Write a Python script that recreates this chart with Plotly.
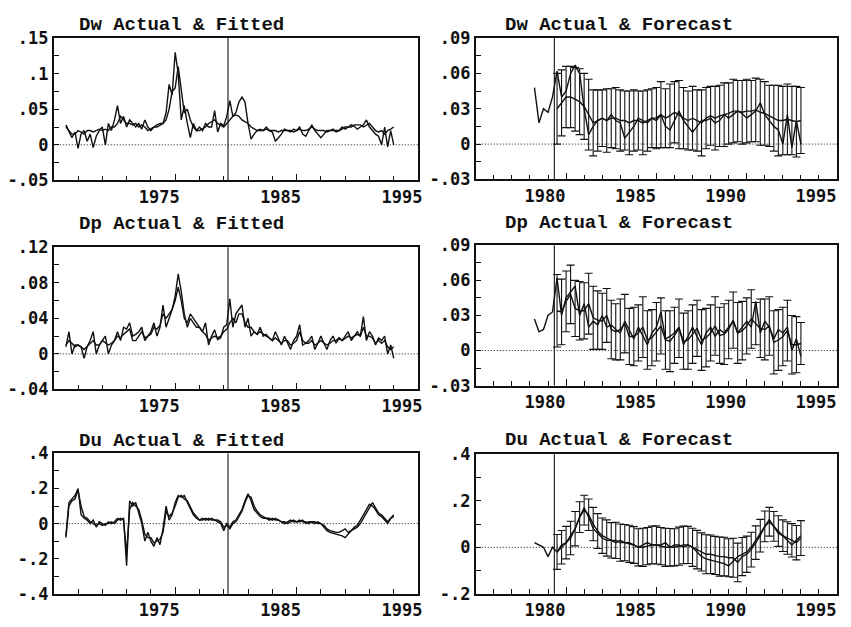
import plotly.graph_objects as go

W, H = 851, 627

# ---------------- data (quarterly, first observation 1966 Q1) ----------------
START_YEAR = 1966
SAMPLE_END = 1979.35          # end of estimation sample (vertical line)
RIGHT_ACTUAL_START = 1978.25  # first actual shown in forecast panels
FORECAST_START = 1979.5       # first forecast quarter

DW_ACTUAL = [
    0.028, 0.020, 0.010, 0.018,   # 1966
    -0.005, 0.015, 0.020, 0.005,  # 1967
    0.015, -0.004, 0.012, 0.020,  # 1968
    0.025, 0.000, 0.030, 0.020,   # 1969
    0.035, 0.055, 0.030, 0.040,   # 1970
    0.025, 0.035, 0.030, 0.025,   # 1971
    0.030, 0.022, 0.035, 0.025,   # 1972
    0.020, 0.025, 0.028, 0.030,   # 1973
    0.030, 0.045, 0.085, 0.070,   # 1974
    0.130, 0.100, 0.035, 0.055,   # 1975
    0.030, 0.010, 0.030, 0.020,   # 1976
    0.025, 0.020, 0.030, 0.025,   # 1977
    0.025, 0.048, 0.018, 0.030,   # 1978
    0.027, 0.040, 0.062, 0.040,   # 1979
    0.045, 0.060, 0.067, 0.060,   # 1980
    0.030, 0.008, 0.015, 0.020,   # 1981
    0.022, 0.020, 0.025, 0.020,   # 1982
    0.018, 0.005, 0.010, 0.015,   # 1983
    0.022, 0.020, 0.018, 0.022,   # 1984
    0.020, 0.025, 0.015, 0.012,   # 1985
    0.020, 0.028, 0.020, 0.015,   # 1986
    0.010, 0.015, 0.020, 0.020,   # 1987
    0.022, 0.018, 0.020, 0.025,   # 1988
    0.022, 0.025, 0.028, 0.026,   # 1989
    0.022, 0.025, 0.028, 0.035,   # 1990
    0.025, 0.020, 0.015, 0.012,   # 1991
    0.000, 0.025, -0.003, 0.020,  # 1992
    0.000,                        # 1993
]
DW_FITTED = [
    0.025, 0.020, 0.015, 0.015,
    0.020, 0.018, 0.015, 0.020,
    0.020, 0.018, 0.020, 0.022,
    0.020, 0.022, 0.020, 0.025,
    0.025, 0.030, 0.040, 0.035,
    0.030, 0.030, 0.028, 0.030,
    0.025, 0.028, 0.025, 0.020,
    0.022, 0.025, 0.025, 0.028,
    0.030, 0.035, 0.050, 0.075,
    0.080, 0.110, 0.075, 0.045,
    0.050, 0.035, 0.025, 0.020,
    0.020, 0.022, 0.025, 0.030,
    0.032, 0.035, 0.030, 0.028,
    0.025, 0.030, 0.035, 0.040,
    0.042, 0.040, 0.035, 0.032,
    0.030, 0.025, 0.022, 0.020,
    0.020, 0.020, 0.022, 0.020,
    0.020, 0.020, 0.018, 0.020,
    0.020, 0.020, 0.020, 0.018,
    0.020, 0.022, 0.020, 0.020,
    0.022, 0.025, 0.022, 0.020,
    0.020, 0.020, 0.018, 0.020,
    0.020, 0.020, 0.020, 0.022,
    0.025, 0.025, 0.025, 0.028,
    0.028, 0.028, 0.025, 0.028,
    0.030, 0.025, 0.020, 0.018,
    0.020, 0.015, 0.020, 0.022,
    0.025,
]
DW_FORECAST = [
    0.030, 0.035,                 # 1979 Q3-Q4
    0.040, 0.040, 0.038, 0.036,   # 1980
    0.032, 0.025, 0.018, 0.020,
    0.022, 0.020, 0.022, 0.022,
    0.020, 0.020, 0.018, 0.020,
    0.020, 0.018, 0.020, 0.022,
    0.022, 0.025, 0.022, 0.024,
    0.027, 0.025, 0.022, 0.020,
    0.022, 0.020, 0.018, 0.022,
    0.024, 0.022, 0.024, 0.025,
    0.026, 0.028, 0.028, 0.027,
    0.028, 0.028, 0.029, 0.027,
    0.026, 0.024, 0.022, 0.020,
    0.020, 0.021, 0.020, 0.019,   # 1992
    0.020,                        # 1993 Q1
]
DW_BAND = [
    0.030, 0.028,
    0.026, 0.026, 0.027, 0.028,
    0.028, 0.030, 0.028, 0.026,
    0.024, 0.027, 0.025, 0.026,
    0.026, 0.025, 0.027, 0.026,
    0.025, 0.027, 0.026, 0.025,
    0.026, 0.028, 0.025, 0.027,
    0.026, 0.029, 0.026, 0.025,
    0.027, 0.026, 0.028, 0.026,
    0.025, 0.027, 0.026, 0.027,
    0.026, 0.027, 0.026, 0.027,
    0.027, 0.026, 0.027, 0.028,
    0.027, 0.026, 0.028, 0.030,
    0.029, 0.030, 0.029, 0.030,
    0.028,
]

DP_ACTUAL = [
    0.008, 0.025, 0.000, 0.010,   # 1966
    0.010, 0.008, -0.005, 0.008,  # 1967
    0.015, 0.025, 0.000, 0.010,   # 1968
    0.015, 0.020, 0.000, 0.010,   # 1969
    0.015, 0.025, 0.015, 0.030,   # 1970
    0.028, 0.035, 0.020, 0.022,   # 1971
    0.025, 0.030, 0.015, 0.020,   # 1972
    0.025, 0.035, 0.020, 0.030,   # 1973
    0.055, 0.030, 0.040, 0.050,   # 1974
    0.065, 0.090, 0.070, 0.045,   # 1975
    0.030, 0.040, 0.035, 0.030,   # 1976
    0.030, 0.025, 0.035, 0.010,   # 1977
    0.020, 0.027, 0.016, 0.018,   # 1978
    0.030, 0.033, 0.062, 0.030,   # 1979
    0.045, 0.050, 0.055, 0.030,   # 1980
    0.040, 0.020, 0.025, 0.022,   # 1981
    0.030, 0.020, 0.022, 0.018,   # 1982
    0.015, 0.025, 0.018, 0.010,   # 1983
    0.020, 0.012, 0.005, 0.015,   # 1984
    0.020, 0.033, 0.010, 0.012,   # 1985
    0.015, 0.020, 0.005, 0.012,   # 1986
    0.020, 0.012, 0.005, 0.015,   # 1987
    0.020, 0.012, 0.018, 0.015,   # 1988
    0.020, 0.025, 0.015, 0.020,   # 1989
    0.025, 0.020, 0.042, 0.015,   # 1990
    0.025, 0.020, 0.010, 0.018,   # 1991
    0.015, 0.020, 0.000, 0.010,   # 1992
    -0.005,                       # 1993
]
DP_FITTED = [
    0.010, 0.015, 0.012, 0.008,
    0.010, 0.008, 0.005, 0.008,
    0.012, 0.015, 0.010, 0.010,
    0.015, 0.012, 0.010, 0.012,
    0.015, 0.020, 0.018, 0.022,
    0.025, 0.028, 0.015, 0.015,
    0.020, 0.025, 0.018, 0.020,
    0.022, 0.030, 0.028, 0.032,
    0.045, 0.040, 0.045, 0.050,
    0.060, 0.075, 0.060, 0.040,
    0.035, 0.045, 0.040, 0.035,
    0.030, 0.025, 0.022, 0.015,
    0.018, 0.020, 0.018, 0.020,
    0.025, 0.028, 0.035, 0.040,
    0.035, 0.045, 0.045, 0.035,
    0.030, 0.030, 0.025, 0.022,
    0.025, 0.022, 0.020, 0.018,
    0.015, 0.018, 0.015, 0.012,
    0.015, 0.015, 0.010, 0.012,
    0.015, 0.025, 0.015, 0.012,
    0.012, 0.015, 0.010, 0.012,
    0.015, 0.012, 0.010, 0.012,
    0.015, 0.015, 0.018, 0.015,
    0.018, 0.020, 0.018, 0.020,
    0.022, 0.020, 0.030, 0.020,
    0.020, 0.018, 0.012, 0.015,
    0.012, 0.015, 0.008, 0.005,
    0.008,
]
DP_FORECAST = [
    0.034, 0.033,
    0.042, 0.048, 0.036, 0.034,
    0.034, 0.040, 0.028, 0.026,
    0.025, 0.030, 0.018, 0.016,
    0.018, 0.023, 0.012, 0.012,
    0.015, 0.020, 0.009, 0.011,
    0.016, 0.021, 0.009, 0.008,
    0.013, 0.019, 0.008, 0.009,
    0.014, 0.019, 0.009, 0.011,
    0.015, 0.021, 0.013, 0.014,
    0.018, 0.026, 0.015, 0.017,
    0.021, 0.027, 0.023, 0.019,
    0.018, 0.021, 0.007, 0.009,
    0.012, 0.017, 0.005, 0.005,
    0.006,
]
DP_BAND = [
    0.031, 0.028,
    0.026, 0.025, 0.024, 0.025,
    0.024, 0.026, 0.027, 0.025,
    0.024, 0.023, 0.025, 0.024,
    0.026, 0.025, 0.024, 0.025,
    0.024, 0.026, 0.025, 0.024,
    0.025, 0.024, 0.025, 0.026,
    0.024, 0.025, 0.024, 0.025,
    0.025, 0.024, 0.026, 0.025,
    0.024, 0.025, 0.024, 0.026,
    0.025, 0.024, 0.026, 0.025,
    0.024, 0.025, 0.018, 0.025,
    0.026, 0.025, 0.027, 0.026,
    0.025, 0.026, 0.025, 0.024,
    0.018,
]

DU_ACTUAL = [
    -0.07, 0.12, 0.14, 0.16,      # 1966
    0.20, 0.05, 0.03, 0.02,       # 1967
    0.00, 0.02, -0.02, 0.01,      # 1968
    0.00, -0.01, 0.01, 0.00,      # 1969
    0.01, 0.03, 0.02, 0.03,       # 1970
    -0.24, 0.13, 0.10, 0.12,      # 1971
    0.06, 0.00, -0.10, -0.05,     # 1972
    -0.10, -0.13, -0.08, -0.12,   # 1973
    -0.03, 0.10, 0.02, 0.05,      # 1974
    0.12, 0.16, 0.15, 0.16,       # 1975
    0.12, 0.08, 0.05, 0.03,       # 1976
    0.02, 0.02, 0.03, 0.02,       # 1977
    0.03, 0.02, 0.01, 0.00,       # 1978
    -0.04, 0.00, -0.02, 0.01,     # 1979
    0.02, 0.05, 0.08, 0.13,       # 1980
    0.17, 0.13, 0.08, 0.06,       # 1981
    0.04, 0.03, 0.03, 0.02,       # 1982
    0.03, 0.02, 0.02, 0.01,       # 1983
    0.00, 0.01, 0.02, 0.01,       # 1984
    0.01, 0.01, 0.02, 0.00,       # 1985
    0.01, 0.01, 0.00, 0.01,       # 1986
    0.00, -0.02, -0.04, -0.05,    # 1987
    -0.055, -0.06, -0.065, -0.07, # 1988
    -0.08, -0.06, -0.04, -0.03,   # 1989
    -0.02, 0.00, 0.03, 0.06,      # 1990
    0.09, 0.12, 0.09, 0.06,       # 1991
    0.05, 0.03, 0.01, 0.03,       # 1992
    0.05,                         # 1993
]
DU_FITTED = [
    -0.08, 0.10, 0.13, 0.14,
    0.19, 0.10, 0.04, 0.03,
    0.01, 0.00, -0.01, 0.00,
    -0.01, 0.00, 0.00, 0.01,
    0.00, 0.02, 0.03, 0.02,
    -0.17, 0.08, 0.12, 0.10,
    0.08, 0.02, -0.06, -0.08,
    -0.08, -0.11, -0.10, -0.09,
    -0.05, 0.07, 0.04, 0.06,
    0.10, 0.15, 0.16, 0.14,
    0.13, 0.09, 0.06, 0.04,
    0.02, 0.03, 0.02, 0.03,
    0.02, 0.02, 0.02, 0.01,
    -0.02, -0.01, -0.03, 0.00,
    0.01, 0.04, 0.07, 0.12,
    0.16, 0.15, 0.10, 0.07,
    0.05, 0.04, 0.03, 0.03,
    0.02, 0.03, 0.02, 0.01,
    0.01, 0.00, 0.01, 0.02,
    0.01, 0.02, 0.01, 0.01,
    0.00, 0.01, 0.01, 0.00,
    0.00, -0.01, -0.03, -0.04,
    -0.045, -0.05, -0.05, -0.04,
    -0.03, -0.05, -0.04, -0.02,
    -0.01, 0.02, 0.05, 0.08,
    0.11, 0.10, 0.08, 0.05,
    0.04, 0.02, 0.00, 0.03,
    0.04,
]
DU_FORECAST = [
    -0.02, 0.00,
    0.02, 0.04, 0.08, 0.13,
    0.16, 0.14, 0.10, 0.07,
    0.05, 0.04, 0.03, 0.03,
    0.02, 0.02, 0.015, 0.01,
    0.00, 0.00, 0.005, 0.01,
    0.01, 0.005, 0.00, 0.00,
    0.00, 0.005, 0.01, 0.01,
    0.00, -0.01, -0.02, -0.03,
    -0.03, -0.035, -0.04, -0.04,
    -0.045, -0.045, -0.065, -0.04,
    -0.03, -0.01, 0.02, 0.05,
    0.09, 0.11, 0.09, 0.07,
    0.05, 0.04, 0.03, 0.02,
    0.04,
]
DU_BAND = [
    0.075, 0.072,
    0.070, 0.072, 0.074, 0.066,
    0.064, 0.068, 0.072, 0.075,
    0.076, 0.078, 0.076, 0.078,
    0.080, 0.078, 0.080, 0.079,
    0.080, 0.082, 0.080, 0.081,
    0.082, 0.080, 0.082, 0.081,
    0.080, 0.082, 0.081, 0.080,
    0.082, 0.083, 0.082, 0.084,
    0.083, 0.082, 0.084, 0.083,
    0.082, 0.084, 0.083, 0.082,
    0.078, 0.075, 0.072, 0.070,
    0.066, 0.062, 0.064, 0.066,
    0.068, 0.070, 0.072, 0.074,
    0.075,
]

TITLES = ["Dw Actual & Fitted", "Dw Actual & Forecast",
          "Dp Actual & Fitted", "Dp Actual & Forecast",
          "Du Actual & Fitted", "Du Actual & Forecast"]

LEFT_X_TICKS = [1975, 1985, 1995]
RIGHT_X_TICKS = [1980, 1985, 1990, 1995]

Y_TICKS = {
    1: ([-0.05, 0, 0.05, 0.1, 0.15], ["-.05", "0", ".05", ".1", ".15"]),
    2: ([-0.03, 0, 0.03, 0.06, 0.09], ["-.03", "0", ".03", ".06", ".09"]),
    3: ([-0.04, 0, 0.04, 0.08, 0.12], ["-.04", "0", ".04", ".08", ".12"]),
    4: ([-0.03, 0, 0.03, 0.06, 0.09], ["-.03", "0", ".03", ".06", ".09"]),
    5: ([-0.4, -0.2, 0, 0.2, 0.4], ["-.4", "-.2", "0", ".2", ".4"]),
    6: ([-0.2, 0, 0.2, 0.4], ["-.2", "0", ".2", ".4"]),
}

# ---------------- layout constants (pixels) ----------------
BOXES = {
    1: (54, 420, 29, 176),
    2: (478, 841, 29, 175),
    3: (54, 420, 245, 392),
    4: (478, 841, 243, 388),
    5: (54, 420, 458, 603),
    6: (478, 841, 459, 603),
}
TITLE_POS = {1: (77, 16), 2: (505, 16), 3: (77, 221), 4: (505, 220),
             5: (77, 445), 6: (505, 444)}

INK = "#111111"
TICK_FONT = dict(family="DejaVu Sans Mono", size=17, color=INK, weight="bold")
TITLE_FONT = dict(family="Liberation Mono", size=19, color=INK, weight="bold")


def quarters(start, n):
    return [start + k / 4 for k in range(n)]


t_full = quarters(START_YEAR, len(DW_ACTUAL))
i_act = round((RIGHT_ACTUAL_START - START_YEAR) * 4)
t_fc = quarters(FORECAST_START, len(DW_FORECAST))

series = [
    (DW_ACTUAL, DW_FITTED, DW_FORECAST, DW_BAND),
    (DP_ACTUAL, DP_FITTED, DP_FORECAST, DP_BAND),
    (DU_ACTUAL, DU_FITTED, DU_FORECAST, DU_BAND),
]

fig = go.Figure()
line = dict(color=INK, width=1.4)

for row, (act, fit, fc, band) in enumerate(series):
    kl = 2 * row + 1
    kr = 2 * row + 2
    xl, yl = ("x", "y") if kl == 1 else (f"x{kl}", f"y{kl}")
    xr, yr = f"x{kr}", f"y{kr}"
    # left: actual & fitted
    fig.add_trace(go.Scatter(x=t_full, y=fit, mode="lines", line=line,
                             xaxis=xl, yaxis=yl, showlegend=False))
    fig.add_trace(go.Scatter(x=t_full, y=act, mode="lines", line=line,
                             xaxis=xl, yaxis=yl, showlegend=False))
    # right: forecast with error bars, plus actual
    fig.add_trace(go.Scatter(x=t_fc, y=fc, mode="lines", line=line,
                             error_y=dict(type="data", array=band, visible=True,
                                          color=INK, thickness=1.1, width=4),
                             xaxis=xr, yaxis=yr, showlegend=False))
    fig.add_trace(go.Scatter(x=t_full[i_act:], y=act[i_act:], mode="lines",
                             line=line, xaxis=xr, yaxis=yr, showlegend=False))

layout = dict(width=W, height=H, margin=dict(l=0, r=0, t=0, b=0),
              paper_bgcolor="white", plot_bgcolor="white", showlegend=False)
shapes = []
annotations = []

for k in range(1, 7):
    x0, x1, y0, y1 = BOXES[k]
    left = (k % 2 == 1)
    xkey = "xaxis" if k == 1 else f"xaxis{k}"
    ykey = "yaxis" if k == 1 else f"yaxis{k}"
    xref = "x" if k == 1 else f"x{k}"
    yref = "y" if k == 1 else f"y{k}"
    ticks_y, text_y = Y_TICKS[k]
    ystep = (ticks_y[1] - ticks_y[0]) / 2
    layout[xkey] = dict(
        domain=[x0 / W, x1 / W], anchor=yref,
        range=[1965, 1995] if left else [1975, 1995],
        tickmode="array",
        tickvals=LEFT_X_TICKS if left else RIGHT_X_TICKS,
        ticktext=[str(v) for v in (LEFT_X_TICKS if left else RIGHT_X_TICKS)],
        ticks="inside", ticklen=7, tickwidth=1.2, tickcolor=INK,
        ticklabelshift=-16 if left else -21,
        minor=dict(ticks="inside", ticklen=5, tickwidth=1.2, tickcolor=INK,
                   tick0=1965, dtick=2 if left else 1, showgrid=False),
        showline=True, linecolor=INK, linewidth=1.6, mirror=True,
        showgrid=False, zeroline=False, tickfont=TICK_FONT,
    )
    layout[ykey] = dict(
        domain=[1 - y1 / H, 1 - y0 / H], anchor=xref,
        range=[ticks_y[0], ticks_y[-1]],
        tickmode="array", tickvals=ticks_y, ticktext=text_y,
        ticks="inside", ticklen=5, tickwidth=1.2, tickcolor=INK,
        minor=dict(ticks="inside", ticklen=5, tickwidth=1.2, tickcolor=INK,
                   tick0=ticks_y[0], dtick=ystep, showgrid=False),
        showline=True, linecolor=INK, linewidth=1.6, mirror=True,
        showgrid=False, zeroline=False, tickfont=TICK_FONT,
    )
    # dotted zero line
    shapes.append(dict(type="line", xref=f"{xref} domain", yref=yref,
                       x0=0, x1=1, y0=0, y1=0,
                       line=dict(color=INK, width=1, dash="1px,2px")))
    # end of estimation sample
    shapes.append(dict(type="line", xref=xref, yref=f"{yref} domain",
                       x0=SAMPLE_END, x1=SAMPLE_END, y0=0, y1=1,
                       line=dict(color=INK, width=1.1)))
    tx, ty = TITLE_POS[k]
    annotations.append(dict(text=TITLES[k - 1], xref="paper", yref="paper",
                            x=tx / W, y=1 - ty / H, xanchor="left",
                            yanchor="middle", showarrow=False,
                            font=TITLE_FONT))

layout["shapes"] = shapes
layout["annotations"] = annotations
fig.update_layout(**layout)
fig.write_html(
    "out.html",
    post_script="document.body.style.margin='0';"
                "document.body.style.padding='0';"
                "document.body.style.overflow='hidden';",
)
